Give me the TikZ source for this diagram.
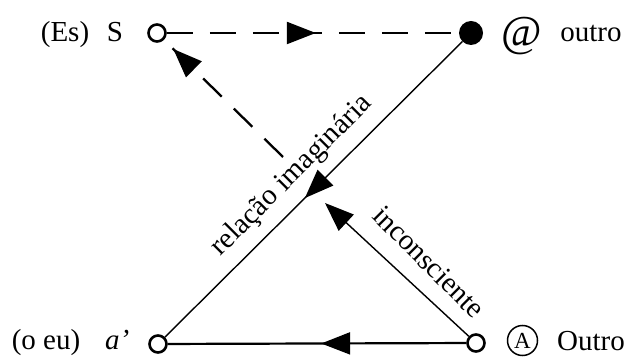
\documentclass[tikz,border=0pt]{standalone}
\usepackage{fontspec}
\setmainfont{Liberation Serif}
\usetikzlibrary{arrows.meta,decorations.markings}
\tikzset{
  txt/.style={font=\fontsize{29}{34}\selectfont, inner sep=0pt},
  opencirc/.style={circle, draw, line width=2.6pt, minimum size=17pt, inner sep=0pt},
  dotcirc/.style={circle, fill, minimum size=24pt, inner sep=0pt},
  dashline/.style={line width=2.3pt, dash pattern=on 26pt off 17pt},
  thinline/.style={line width=1.4pt},
  botline/.style={line width=2.2pt},
  bigtip/.tip={Triangle[length=29pt,width=22pt]},
  midarrow/.style={postaction={decorate,decoration={markings,mark=at position #1 with {\arrow{bigtip}}}}}
}
\begin{document}
\begin{tikzpicture}[x=1pt,y=1pt]
\useasboundingbox (0,0) rectangle (631,356);
% points
\node[opencirc] (S) at (157,323) {};
\node[dotcirc] (dot) at (471,323) {};
\node[opencirc] (ap) at (158,12) {};
\node[opencirc] (A) at (476,13) {};
\coordinate (X) at (283,199);
\coordinate (Y) at (325,153);
% labels
\node[txt, anchor=base] (Es) at (65,314) {(Es)};
\node[txt, anchor=base] (Slab) at (115,314) {S};
\node[txt, font=\fontsize{44}{46}\selectfont, inner sep=0pt] (atsym) at (522,320) {@};
\node[txt, anchor=base] (outro) at (591,314) {outro};
\node[txt, anchor=base] (oeu) at (46,7) {(o eu)};
\node[txt, anchor=base west] (aplab) at (105,7) {\itshape a’};
\node[circle, draw, line width=1.5pt, minimum size=30pt, inner sep=0pt, font=\fontsize{23}{26}\selectfont] (Acirc) at (522.5,15.5) {A};
\node[txt, anchor=base] (Outro) at (591,6) {Outro};
\node[txt, rotate=45] (rel) at (292,180) {relação imaginária};
\node[txt, rotate=-45] (inc) at (429,94) {inconsciente};
% connectors
\draw[dashline, midarrow=149pt] (S) -- (dot);
\draw[dashline, midarrow=-13pt] (X) -- (S);
\draw[thinline, midarrow=222pt] (dot) -- (ap);
\draw[thinline, -bigtip] (A) -- (Y);
\draw[botline, midarrow=145pt] (A) -- (ap);
\end{tikzpicture}
\end{document}
